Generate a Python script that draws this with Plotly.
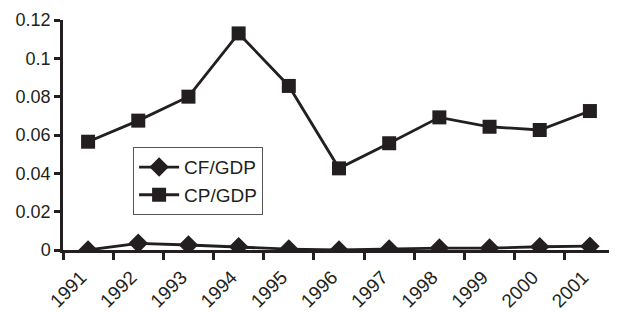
import plotly.graph_objects as go

years = ["1991", "1992", "1993", "1994", "1995", "1996", "1997", "1998", "1999", "2000", "2001"]
cf_gdp = [0.0, 0.0035, 0.0026, 0.0017, 0.0005, 0.0, 0.0005, 0.001, 0.001, 0.0017, 0.002]
cp_gdp = [0.0565, 0.0675, 0.080, 0.113, 0.0856, 0.0426, 0.0557, 0.0692, 0.0643, 0.0626, 0.0725]
y_ticks = [0, 0.02, 0.04, 0.06, 0.08, 0.1, 0.12]
y_tick_text = ["0", "0.02", "0.04", "0.06", "0.08", "0.1", "0.12"]

ink = "#231f20"
font = dict(family="Liberation Sans, Arial, sans-serif", size=18, color=ink)
xfont = dict(family="Liberation Sans, Arial, sans-serif", size=19, color=ink)

fig = go.Figure()
fig.add_trace(go.Scatter(
    x=years, y=cf_gdp, name="CF/GDP", mode="lines+markers",
    line=dict(color=ink, width=2.8),
    marker=dict(symbol="diamond", size=15, color=ink),
))
fig.add_trace(go.Scatter(
    x=years, y=cp_gdp, name="CP/GDP", mode="lines+markers",
    line=dict(color=ink, width=2.8),
    marker=dict(symbol="square", size=14, color=ink),
))

# page body has an 8px margin; the figure is sized to fit the 617x312 window
fig.update_layout(
    width=609, height=304,
    margin=dict(l=55, r=2, t=12, b=62),
    paper_bgcolor="white", plot_bgcolor="white",
    font=font,
    showlegend=True,
    legend=dict(
        x=0.127, y=0.447, xanchor="left", yanchor="top",
        bgcolor="white", bordercolor="#555555", borderwidth=1,
        font=dict(family="Liberation Sans, Arial, sans-serif", size=19, color=ink),
        itemwidth=40, tracegroupgap=4,
    ),
    xaxis=dict(
        type="category", range=[-0.5, 10.5],
        showline=True, linecolor=ink, linewidth=2.5,
        ticks="outside", tickson="boundaries", ticklen=7, tickwidth=2.5, tickcolor=ink,
        tickangle=-45, showgrid=False, zeroline=False,
        tickfont=xfont, ticklabelshift=-7, ticklabelstandoff=6,
    ),
    yaxis=dict(
        range=[0, 0.12], tickvals=y_ticks, ticktext=y_tick_text,
        showline=True, linecolor=ink, linewidth=2.5,
        ticks="outside", ticklen=6, tickwidth=2.5, tickcolor=ink,
        showgrid=False, zeroline=False,
        tickfont=font,
    ),
)

fig.write_html("out.html")
